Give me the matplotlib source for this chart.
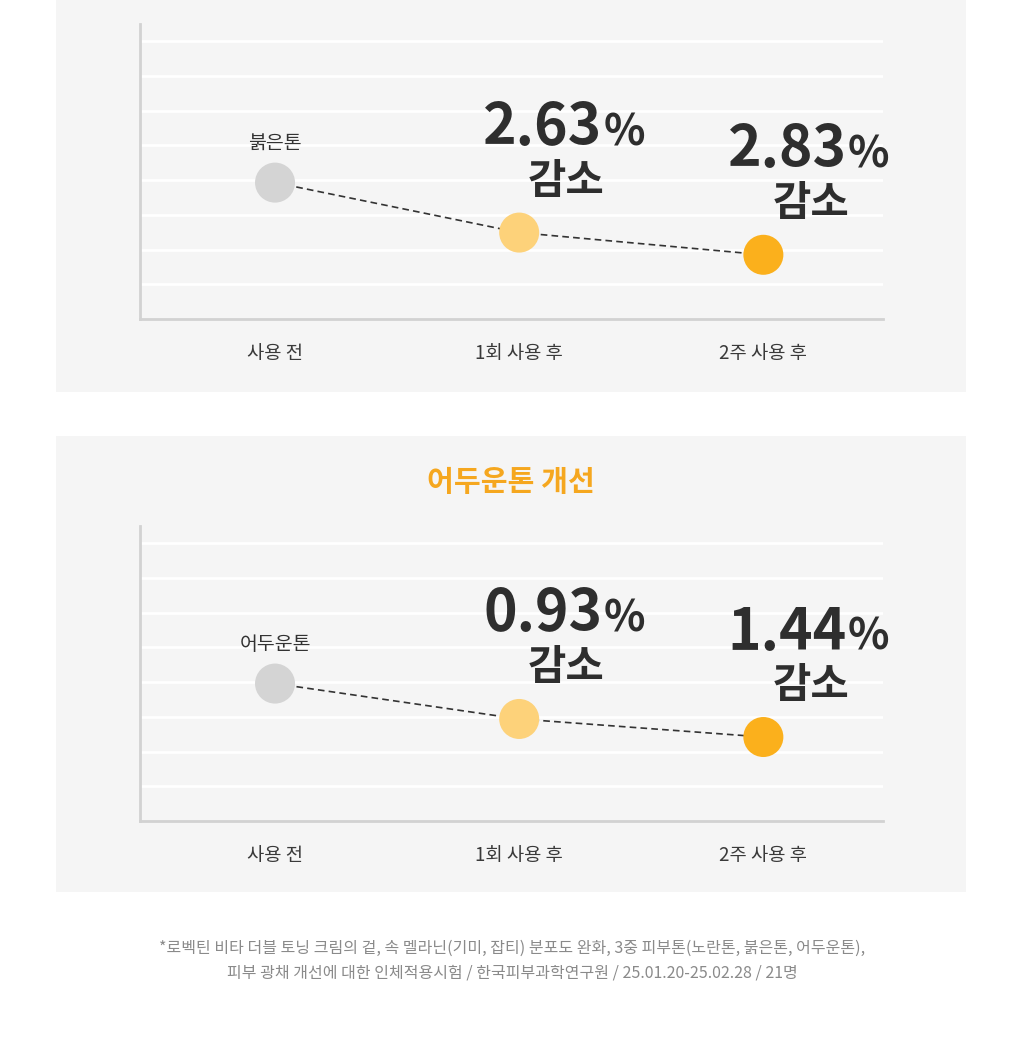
import matplotlib
matplotlib.use("Agg")
import matplotlib.pyplot as plt
from matplotlib.patches import Rectangle

plt.rcParams['font.family'] = ['Noto Sans CJK KR', 'DejaVu Sans']

# ---- data ----
categories = ["사용 전", "1회 사용 후", "2주 사용 후"]
red_tone_levels = [3.93, 2.49, 1.85]
dark_tone_levels = [3.96, 2.94, 2.42]
red_tone_changes = ["2.63", "2.83"]
dark_tone_changes = ["0.93", "1.44"]
series_names = ["붉은톤", "어두운톤"]
bottom_title = "어두운톤 개선"
change_word = "감소"
footnote_lines = [
    "*로벡틴 비타 더블 토닝 크림의 겉, 속 멜라닌(기미, 잡티) 분포도 완화, 3중 피부톤(노란톤, 붉은톤, 어두운톤),",
    "피부 광채 개선에 대한 인체적용시험 / 한국피부과학연구원 / 25.01.20-25.02.28 / 21명",
]

W, H = 1024, 1040
fig = plt.figure(figsize=(W / 100, H / 100), dpi=100)
fig.patch.set_facecolor("white")

def px_rect(x0, y0, x1, y1):
    return (x0 / W, 1 - y1 / H, (x1 - x0) / W, (y1 - y0) / H)

PANEL = "#f5f5f5"
for (x0, y0, x1, y1) in [(56, 0, 966, 392), (56, 436, 966, 892)]:
    l, b, w, h = px_rect(x0, y0, x1, y1)
    fig.patches.append(Rectangle((l, b), w, h, transform=fig.transFigure,
                                 facecolor=PANEL, edgecolor="none", zorder=-10))

marker_colors = ["#d4d4d4", "#fdd27a", "#fbb01c"]
TXT = "#2e2e2e"

def draw_panel(ax, levels, changes, name):
    ax.set_facecolor("none")
    xs = list(range(len(categories)))
    ax.set_xlim(-0.553, 2.49)
    ax.set_ylim(0, 8.5)
    ax.set_yticks(range(1, 9))
    ax.yaxis.grid(True, color="white", lw=2.0, zorder=0)
    ax.set_axisbelow(True)
    for s in ["top", "right"]:
        ax.spines[s].set_visible(False)
    for s in ["left", "bottom"]:
        ax.spines[s].set_color("#d2d2d2")
        ax.spines[s].set_linewidth(2.0)
    ax.set_xticks(xs)
    ax.set_xticklabels(categories, fontsize=13.5, color="#3a3a3a")
    ax.tick_params(axis="x", length=0, pad=17)
    ax.tick_params(axis="y", length=0, labelleft=False)

    ax.plot(xs, levels, color="#333333", lw=1.2, ls=(0, (4, 2.5)), zorder=2)
    ax.scatter(xs, levels, s=830, c=marker_colors, edgecolors="none",
               zorder=3, clip_on=False)

    ax.annotate(name, (xs[0], levels[0]), xytext=(0, 28), textcoords="offset points",
                ha="center", va="center", fontsize=14, color="#333333")

    for i, ch in enumerate(changes, start=1):
        ax.annotate(ch, (xs[i], levels[i]), xytext=(60, 63), textcoords="offset points",
                    ha="right", va="baseline", fontsize=41, fontweight="bold", color=TXT)
        ax.annotate("%", (xs[i], levels[i]), xytext=(61, 63), textcoords="offset points",
                    ha="left", va="baseline", fontsize=31, fontweight="bold", color=TXT)
        ax.annotate(change_word, (xs[i], levels[i]), xytext=(34, 36.5), textcoords="offset points",
                    ha="center", va="center", fontsize=30, fontweight="bold", color=TXT)

ax1 = fig.add_axes(px_rect(140, 24, 883, 319))
draw_panel(ax1, red_tone_levels, red_tone_changes, series_names[0])

ax2 = fig.add_axes(px_rect(140, 526, 883, 821))
draw_panel(ax2, dark_tone_levels, dark_tone_changes, series_names[1])

fig.text(511 / W, 1 - 482 / H, bottom_title, ha="center", va="center",
         fontsize=21, fontweight="bold", color="#f5a71f")

for k, line in enumerate(footnote_lines):
    fig.text(512 / W, 1 - (948 + 25 * k) / H, line, ha="center", va="center",
             fontsize=11.5, color="#8a8a8a")

fig.savefig("out.png", dpi=100, facecolor="white")
